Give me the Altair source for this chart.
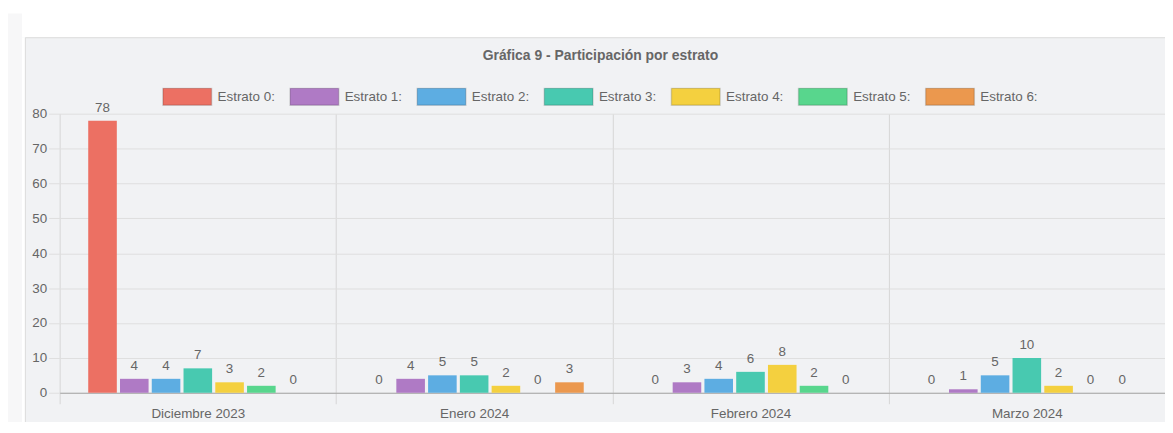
import altair as alt
import pandas as pd

months = ["Diciembre 2023", "Enero 2024", "Febrero 2024", "Marzo 2024"]
estratos = ["Estrato 0:", "Estrato 1:", "Estrato 2:", "Estrato 3:", "Estrato 4:", "Estrato 5:", "Estrato 6:"]
colors = ["#EC7063", "#AF7AC5", "#5DADE2", "#48C9B0", "#F4D03F", "#58D68D", "#EB984E"]

estrato_0 = [78, 0, 0, 0]
estrato_1 = [4, 4, 3, 1]
estrato_2 = [4, 5, 4, 5]
estrato_3 = [7, 5, 6, 10]
estrato_4 = [3, 2, 8, 2]
estrato_5 = [2, 0, 2, 0]
estrato_6 = [0, 3, 0, 0]
series = [estrato_0, estrato_1, estrato_2, estrato_3, estrato_4, estrato_5, estrato_6]

y_ticks = [0, 10, 20, 30, 40, 50, 60, 70, 80]

rows = []
for name, vals in zip(estratos, series):
    for m, v in zip(months, vals):
        rows.append({"mes": m, "estrato": name, "valor": v})
df = pd.DataFrame(rows)

W, H = 1113, 281
FONT = "Liberation Sans"
TXT = "#666666"

one = pd.DataFrame({"k": [0]})

top_white = alt.Chart(one).mark_rect(fill="white").encode(
    x=alt.value(-70), x2=alt.value(W + 20), y=alt.value(-130), y2=alt.value(-77)
)
left_white = alt.Chart(one).mark_rect(fill="white").encode(
    x=alt.value(-70), x2=alt.value(-35), y=alt.value(-77), y2=alt.value(H + 40)
)
left_strip = alt.Chart(one).mark_rect(fill="#f7f7f8").encode(
    x=alt.value(-60), x2=alt.value(-38), y=alt.value(-101), y2=alt.value(H + 40)
)
panel_border = alt.Chart(one).mark_rect(fill="transparent", stroke="#dcdcdc", strokeWidth=1).encode(
    x=alt.value(-34.5), x2=alt.value(W + 10), y=alt.value(-76.5), y2=alt.value(H + 40)
)

base = alt.Chart(df).encode(
    x=alt.X(
        "mes:N",
        sort=months,
        scale=alt.Scale(paddingInner=0, paddingOuter=0),
        axis=alt.Axis(
            title=None,
            labelAngle=0,
            tickBand="extent",
            grid=True,
            gridColor="#d6d6d6",
            tickColor="#d6d6d6",
            tickSize=11,
            domainColor="#a6a6a6",
            labelPadding=3,
            labelFont=FONT,
            labelFontSize=13.5,
            labelColor=TXT,
        ),
    ),
    xOffset=alt.XOffset(
        "estrato:N", sort=estratos, scale=alt.Scale(paddingInner=0.1, paddingOuter=0.9)
    ),
    y=alt.Y(
        "valor:Q",
        scale=alt.Scale(domain=[0, 80], nice=False),
        axis=alt.Axis(
            title=None,
            values=y_ticks,
            domain=False,
            gridColor="#dfdfdf",
            tickColor="#dfdfdf",
            tickSize=11,
            labelPadding=2,
            labelFont=FONT,
            labelFontSize=13.5,
            labelColor=TXT,
        ),
    ),
)

bars = base.mark_bar().encode(
    color=alt.Color(
        "estrato:N",
        sort=estratos,
        scale=alt.Scale(domain=estratos, range=colors),
        legend=alt.Legend(
            title=None,
            orient="none",
            legendX=103,
            legendY=-43,
            direction="horizontal",
            columns=7,
            columnPadding=12,
            labelOffset=5,
            symbolType="M-1,-0.347L1,-0.347L1,0.347L-1,0.347Z",
            symbolSize=2401,
            symbolStrokeColor="rgba(0,0,0,0.15)",
            symbolStrokeWidth=1.5,
            labelFont=FONT,
            labelFontSize=13.5,
            labelColor=TXT,
            padding=0,
        ),
    )
)

labels = base.mark_text(baseline="middle", dy=-13, font=FONT, fontSize=13.5, color=TXT).encode(
    text=alt.Text("valor:Q")
)

chart = (
    alt.layer(top_white, left_white, left_strip, panel_border, bars, labels)
    .properties(
        width=W,
        height=H,
        padding={"left": 52, "top": 105, "right": 0, "bottom": 28},
        autosize=alt.AutoSizeParams(type="none"),
        title=alt.TitleParams(
            "Gráfica 9 - Participación por estrato",
            anchor="middle",
            frame="group",
            dx=-12,
            offset=-86,
            baseline="middle",
            font=FONT,
            fontSize=14,
            fontWeight="bold",
            color=TXT,
        ),
    )
    .configure(background="#f1f2f4")
    .configure_view(stroke=None)
)

chart.save("out.html", embed_options={"renderer": "svg", "actions": False})
